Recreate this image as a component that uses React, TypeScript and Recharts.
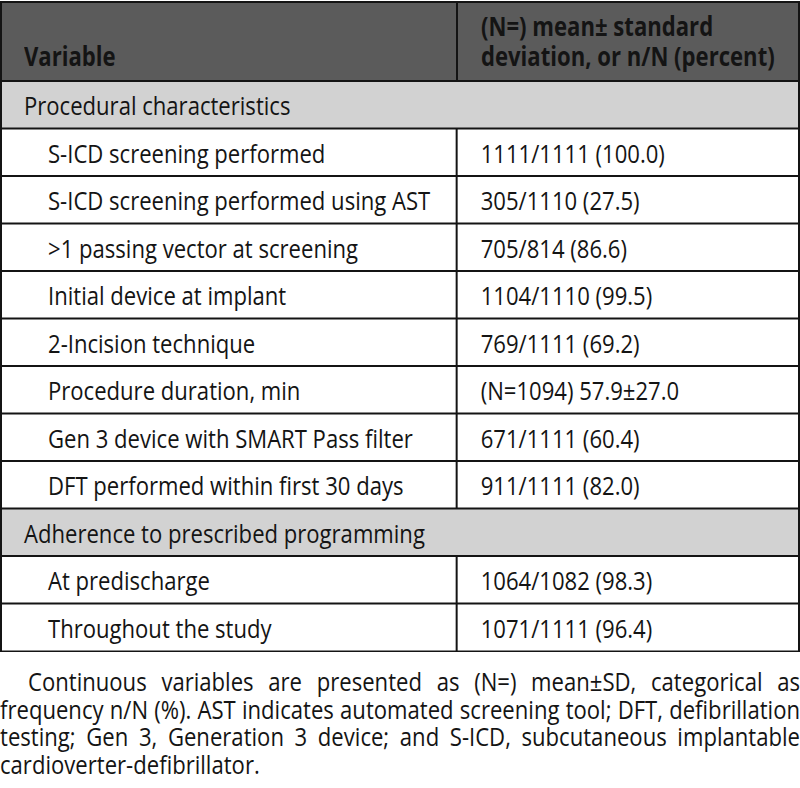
import React from 'react';
import { BarChart, Bar, XAxis, YAxis } from 'recharts';

// table rows, top to bottom
const variables = [
  'Procedural characteristics',
  'S-ICD screening performed',
  'S-ICD screening performed using AST',
  '>1 passing vector at screening',
  'Initial device at implant',
  '2-Incision technique',
  'Procedure duration, min',
  'Gen 3 device with SMART Pass filter',
  'DFT performed within first 30 days',
  'Adherence to prescribed programming',
  'At predischarge',
  'Throughout the study',
];
const values = [
  '',
  '1111/1111 (100.0)',
  '305/1110 (27.5)',
  '705/814 (86.6)',
  '1104/1110 (99.5)',
  '769/1111 (69.2)',
  '(N=1094) 57.9±27.0',
  '671/1111 (60.4)',
  '911/1111 (82.0)',
  '',
  '1064/1082 (98.3)',
  '1071/1111 (96.4)',
];
const sectionRows = [true, false, false, false, false, false, false, false, false, true, false, false];

const headerLeft = 'Variable';
const headerRight = ['(N=) mean± standard', 'deviation, or n/N (percent)'];
const footnoteLines = [
  'Continuous variables are presented as (N=) mean±SD, categorical as',
  'frequency n/N (%). AST indicates automated screening tool; DFT, defibrillation',
  'testing; Gen 3, Generation 3 device; and S-ICD, subcutaneous implantable',
  'cardioverter-defibrillator.',
];

const data = variables.map((v, i) => ({ label: v, value: values[i], section: sectionRows[i], band: 1 }));

const FONT = '"Open Sans", "Noto Sans", sans-serif';
const SX = 0.85; // the original face is narrower than Open Sans
const SPLIT = 0.571; // where the second column starts, as a share of width
const INK = '#141414';

const CellText = ({ x, y, children }: any) => (
  <text transform={`translate(${x},${y}) scale(${SX},1)`} dominantBaseline="central" fontSize={26} fill={INK} fontFamily={FONT}>
    {children}
  </text>
);

const RowCell = (props: any) => {
  const { x, y, width, height, payload } = props;
  const midY = y + height / 2;
  const splitX = x + width * SPLIT;
  return (
    <g>
      <rect x={x} y={y} width={width} height={height} fill={payload.section ? '#d2d2d2' : '#ffffff'} stroke={INK} strokeWidth={2} />
      {!payload.section && <line x1={splitX} x2={splitX} y1={y} y2={y + height} stroke={INK} strokeWidth={2} />}
      <CellText x={x + (payload.section ? 23 : 47)} y={midY}>
        {payload.label}
      </CellText>
      {payload.value && (
        <CellText x={splitX + 24} y={midY}>
          {payload.value}
        </CellText>
      )}
    </g>
  );
};

const squeeze: React.CSSProperties = { display: 'inline-block', transform: `scaleX(${SX})`, transformOrigin: '0 0', whiteSpace: 'nowrap' };

export default function App() {
  return (
    <div style={{ position: 'relative', width: 800, height: 788, background: '#fff', fontFamily: FONT, color: INK, overflow: 'hidden' }}>
      <style>{'body{margin:0}'}</style>
      <BarChart
        width={800}
        height={652}
        data={data}
        layout="vertical"
        barCategoryGap={0}
        margin={{ top: 81, right: 1, bottom: 1, left: 1 }}
      >
        <XAxis type="number" domain={[0, 1]} hide />
        <YAxis type="category" dataKey="label" hide />
        <Bar dataKey="band" shape={<RowCell />} isAnimationActive={false} />
      </BarChart>
      <div
        style={{
          position: 'absolute',
          left: 0,
          top: 1,
          width: 800,
          height: 81,
          boxSizing: 'border-box',
          background: '#5b5b5b',
          border: `2px solid ${INK}`,
          display: 'flex',
          fontWeight: 700,
          fontSize: 26,
        }}
      >
        <div style={{ width: 456, flexShrink: 0, borderRight: `2px solid ${INK}`, boxSizing: 'border-box', padding: '0 0 9px 22px', display: 'flex', alignItems: 'flex-end', lineHeight: '30px' }}>
          <span style={squeeze}>{headerLeft}</span>
        </div>
        <div style={{ flex: 1, minWidth: 0, padding: '0 0 9px 23px', display: 'flex', flexDirection: 'column', justifyContent: 'flex-end', lineHeight: '30px' }}>
          {headerRight.map((t) => (
            <div key={t}>
              <span style={squeeze}>{t}</span>
            </div>
          ))}
        </div>
      </div>
      <div style={{ position: 'absolute', left: 0, top: 668, width: 800, fontSize: 26, lineHeight: '27.5px' }}>
        {footnoteLines.map((t, i) => (
          <div key={i} style={{ height: 27.5 }}>
            <div
              style={{
                width: 800 / SX,
                boxSizing: 'border-box',
                transform: `scaleX(${SX})`,
                transformOrigin: '0 0',
                textAlign: 'justify',
                textAlignLast: i < footnoteLines.length - 1 ? 'justify' : 'left',
                paddingLeft: i === 0 ? 28 / SX : 0,
                whiteSpace: 'nowrap',
              }}
            >
              {t}
            </div>
          </div>
        ))}
      </div>
    </div>
  );
}
